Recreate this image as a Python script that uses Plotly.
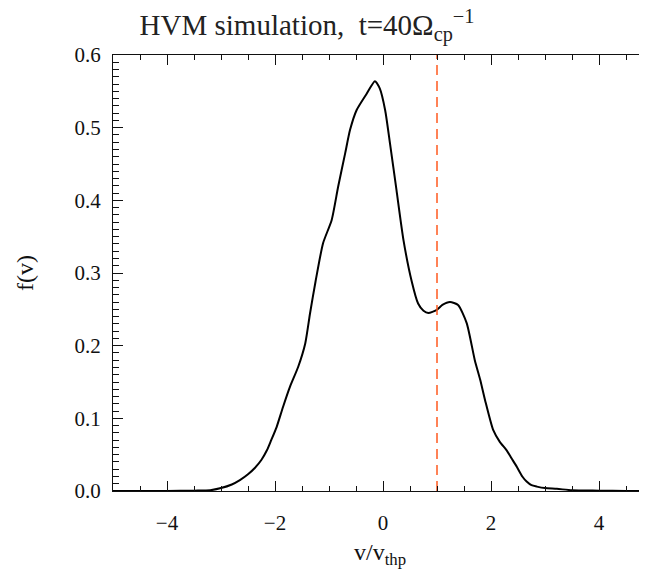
import plotly.graph_objects as go

# velocity (v / v_thp) and distribution function f(v)
v = [-5.0, -4.5, -4.0, -3.5, -3.2, -3.0, -2.8, -2.65, -2.5, -2.37, -2.25, -2.15,
     -2.07, -1.97, -1.85, -1.72, -1.57, -1.44, -1.35, -1.25, -1.11, -0.95, -0.83,
     -0.70, -0.61, -0.49, -0.30, -0.15, -0.06, 0.04, 0.13, 0.25, 0.38, 0.53, 0.65,
     0.75, 0.84, 0.99, 1.10, 1.24, 1.39, 1.55, 1.70, 1.80, 1.89, 2.04, 2.16, 2.29,
     2.38, 2.48, 2.58, 2.66, 2.75, 2.85, 3.0, 3.22, 3.5, 4.0, 4.5, 5.0]
f = [0.0, 0.0, 0.0, 0.0005, 0.001, 0.004, 0.009, 0.015, 0.023, 0.032, 0.043, 0.056,
     0.070, 0.088, 0.116, 0.144, 0.171, 0.203, 0.245, 0.288, 0.341, 0.373, 0.419,
     0.465, 0.497, 0.524, 0.547, 0.564, 0.554, 0.524, 0.478, 0.414, 0.345, 0.289, 0.258,
     0.248, 0.245, 0.249, 0.256, 0.260, 0.256, 0.231, 0.180, 0.153, 0.125, 0.084, 0.068, 0.056,
     0.045, 0.033, 0.020, 0.013, 0.008, 0.006, 0.004, 0.003, 0.001, 0.0005, 0.0, 0.0]

v_marker = [1.0, 1.0]
f_marker = [0.0, 0.6]

x_ticks = [-4, -2, 0, 2, 4]
x_ticktext = ["\u22124", "\u22122", "0", "2", "4"]
y_ticks = [0.0, 0.1, 0.2, 0.3, 0.4, 0.5, 0.6]
y_ticktext = ["0.0", "0.1", "0.2", "0.3", "0.4", "0.5", "0.6"]

FONT = "Liberation Serif"
INK = "#111111"

fig = go.Figure()
fig.add_trace(go.Scatter(x=v, y=f, mode="lines",
                         line=dict(color="black", width=2, shape="spline", smoothing=0.6),
                         hoverinfo="skip", showlegend=False))
fig.add_trace(go.Scatter(x=v_marker, y=f_marker, mode="lines",
                         line=dict(color="#FF5A1F", width=1.5, dash="10px,6px"),
                         hoverinfo="skip", showlegend=False))

fig.update_layout(
    width=647, height=579,
    margin=dict(l=105, r=2, t=47, b=96, autoexpand=False),
    paper_bgcolor="white", plot_bgcolor="white",
    font=dict(family=FONT, color=INK, size=21),
    title=dict(text="HVM simulation,  t=40\u03a9<sub>cp</sub><sup>\u22121</sup>",
               x=299/647, xref="container", xanchor="center",
               y=1 - 17/579, yref="container", yanchor="middle",
               font=dict(family=FONT, size=29, color="#222222")),
    xaxis=dict(range=[-5, 5], showgrid=False, zeroline=False,
               showline=True, linecolor=INK, linewidth=1, mirror="ticks",
               ticks="inside", ticklen=10, tickwidth=1, tickcolor=INK,
               tickvals=x_ticks, ticktext=x_ticktext, ticklabelstandoff=13,
               tickfont=dict(family=FONT, size=21, color=INK),
               minor=dict(dtick=0.5, ticks="inside", ticklen=5, tickwidth=1, tickcolor=INK)),
    yaxis=dict(range=[0, 0.6], showgrid=False, zeroline=False,
               showline=True, linecolor=INK, linewidth=1, mirror="ticks",
               ticks="inside", ticklen=10, tickwidth=1, tickcolor=INK,
               tickvals=y_ticks, ticktext=y_ticktext, ticklabelstandoff=7,
               tickfont=dict(family=FONT, size=21, color=INK),
               minor=dict(dtick=0.01, ticks="inside", ticklen=6, tickwidth=1, tickcolor=INK)),
    annotations=[
        dict(text="v/v<sub>thp</sub>", xref="paper", yref="paper",
             x=(372 - 105) / 540, y=-(546 - 483) / 436, xanchor="center", yanchor="middle",
             showarrow=False, font=dict(family=FONT, size=24, color=INK)),
        dict(text="f(v)", xref="paper", yref="paper", textangle=-90,
             x=-(105 - 17) / 540, y=0.5, xanchor="center", yanchor="middle",
             showarrow=False, font=dict(family=FONT, size=24, color=INK)),
    ],
)

fig.write_html("out.html")
